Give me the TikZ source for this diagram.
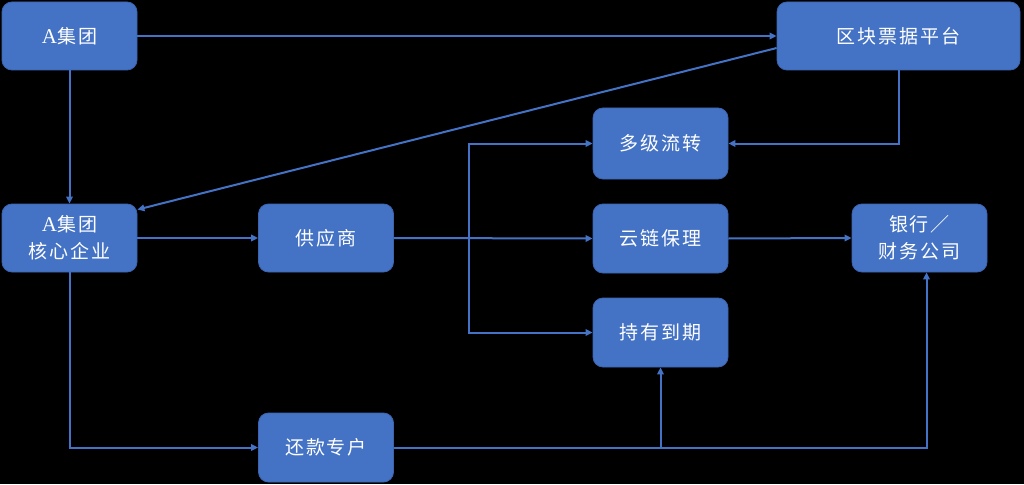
\documentclass[tikz,border=0pt]{standalone}
\usepackage{fontspec}
\setmainfont{Liberation Serif}
\newfontfamily\cjk[LetterSpace=10]{Noto Sans CJK SC}
\usetikzlibrary{arrows.meta,calc}
\definecolor{boxblue}{RGB}{68,114,196}
\definecolor{boxedge}{RGB}{60,100,175}
\tikzset{
  box/.style={rectangle, rounded corners=10pt, fill=boxblue, draw=boxedge, line width=0.8pt,
    minimum width=135pt, minimum height=68pt, inner sep=0pt, text=white,
    font=\fontsize{19}{27}\selectfont\cjk, align=center},
  conn/.style={draw=boxblue, line width=2pt, -{Triangle[length=7pt,width=6.5pt]}},
}
\newcommand{\LA}{{\rmfamily\fontsize{21}{27}\selectfont A}}
\begin{document}
\begin{tikzpicture}[x=1pt,y=-1pt]
\fill[black] (0,0) rectangle (1024,484);
\useasboundingbox (0,0) rectangle (1024,484);
\node[box] (ag) at (69.5,36) {\LA 集团};
\node[box, minimum width=243pt] (qk) at (898.5,36) {区块票据平台};
\node[box, minimum height=71pt] (dj) at (660.5,143.5) {多级流转};
\node[box] (core) at (69.5,238) {\LA 集团\\核心企业};
\node[box] (sup) at (326,238) {供应商};
\node[box, minimum height=69pt] (yl) at (660.5,238.5) {云链保理};
\node[box] (bank) at (919.5,238) {银行／\\财务公司};
\node[box, minimum height=69pt] (cy) at (660.5,332.5) {持有到期};
\node[box, minimum height=69pt] (hk) at (326,447.5) {还款专户};

\draw[conn] (ag.east) -- (qk.west |- ag.east);
\draw[conn] (ag.south) -- (core.north);
\draw[conn] ($(qk.west)+(0,12)$) -- ($(core.north east)+(0,6)$);
\draw[conn] (qk.south) |- (dj.east);
\draw[conn] (core.east) -- (sup.west);
\draw[conn] (sup.east) -- (yl.west);
\coordinate (br) at (469,238);
\draw[conn] (br) |- (dj.west);
\draw[conn] (br) |- (cy.west);
\draw[conn] (yl.east) -- (bank.west);
\draw[conn] (core.south) |- (hk.west);
\coordinate (bk) at ($(bank.south)+(7,0)$);
\draw[conn] (hk.east) -| (bk);
\draw[conn] (cy.south |- hk.east) -- (cy.south);
\end{tikzpicture}
\end{document}
